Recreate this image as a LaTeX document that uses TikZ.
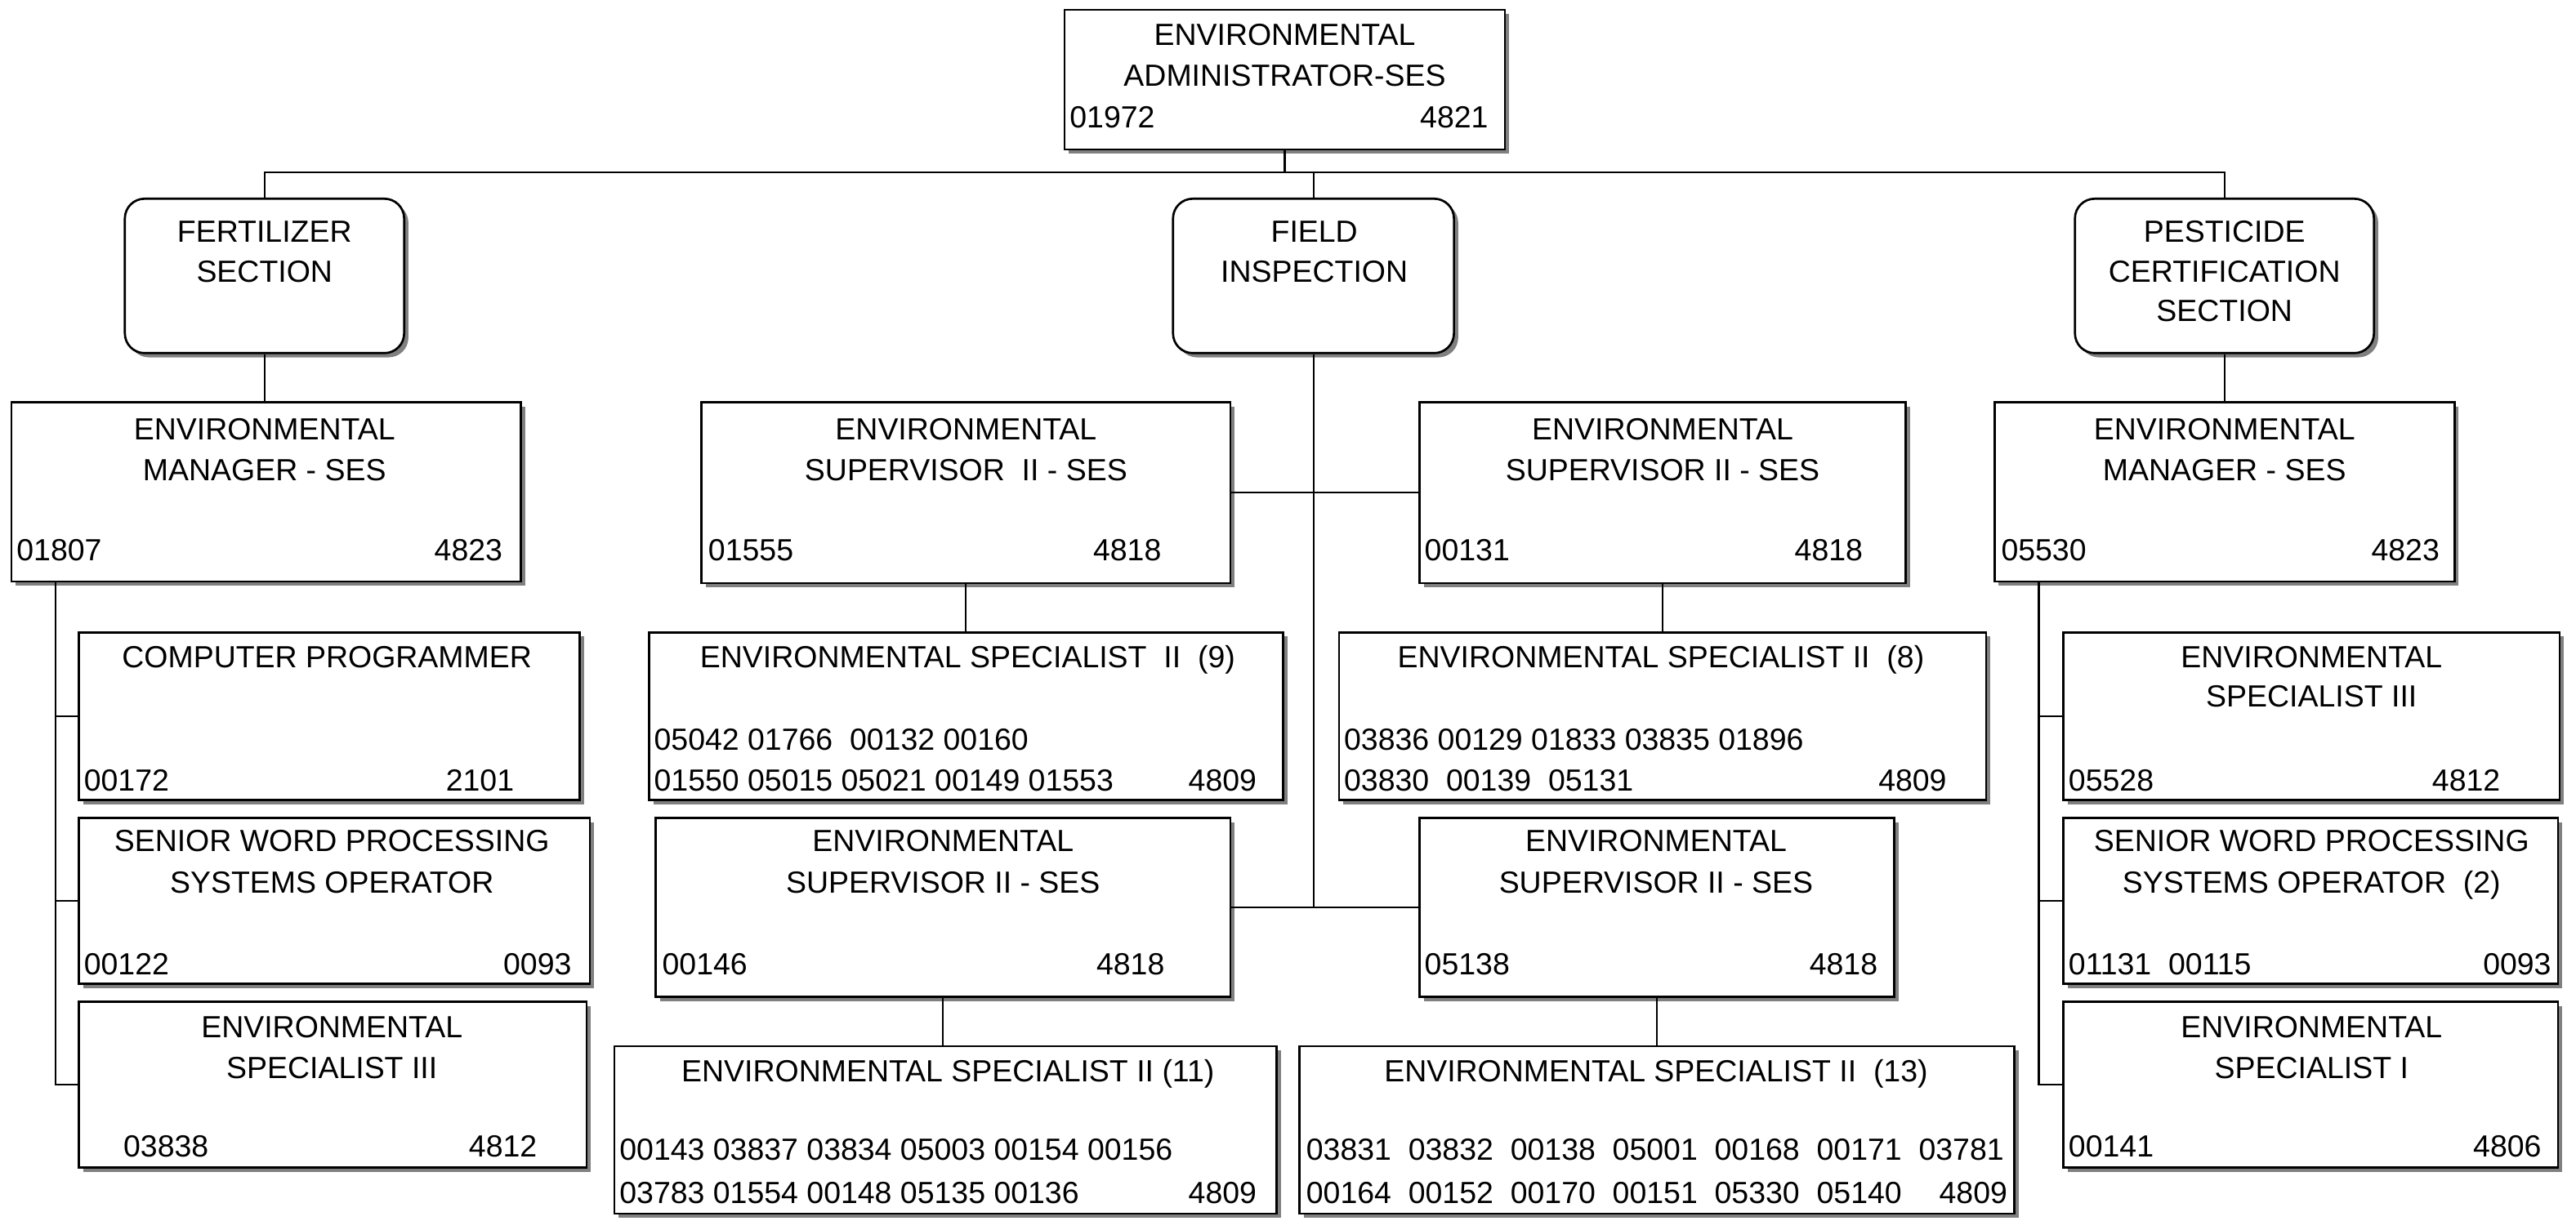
\documentclass[tikz,border=0pt]{standalone}
\usepackage{fontspec}
\setmainfont{Liberation Sans}
\usetikzlibrary{shadows}

% box from (x1,y1) to (x2,y2), y measured downwards
\newcommand\orgbox[6]{%
  \node[#6, minimum width={(#4-#2)*0.5mm}, minimum height={(#5-#3)*0.5mm}]
    (#1) at ({(#2+#4)/2},{(#3+#5)/2}) {};}
% text lines: centred, left-aligned and right-aligned (x, y = middle of capitals)
\newcommand\ctext[4]{\node[txt,anchor=base] (#1) at (#2,{#3+6.6}) {#4};}
\newcommand\ltext[4]{\node[txt,anchor=base west] (#1) at (#2,{#3+6.6}) {#4};}
\newcommand\rtext[4]{\node[txt,anchor=base east] (#1) at (#2,{#3+6.6}) {#4};}

\tikzset{
  posbox/.style={draw=black, line width=1.9pt, fill=white, rectangle, inner sep=0pt,
    drop shadow={shadow xshift=1.3mm, shadow yshift=-1.3mm, fill=black!50, opacity=1}},
  unitbox/.style={posbox, rounded corners=6mm},
  txt/.style={inner sep=0pt, font=\fontsize{26.5pt}{35pt}\selectfont},
  link/.style={draw=black, line width=1.5pt},
}

\begin{document}
\begin{tikzpicture}[x=0.5mm, y=-0.5mm]
\useasboundingbox (0,0) rectangle (1568,743);

% ---------- boxes ----------
\orgbox{top}{648}{6}{916}{91}{posbox}
\orgbox{fert}{76}{121}{246}{215}{unitbox}
\orgbox{field}{714}{121}{885}{215}{unitbox}
\orgbox{pest}{1263}{121}{1445}{215}{unitbox}

\orgbox{lman}{7}{245}{317}{354}{posbox}
\orgbox{cprog}{48}{385}{353}{487}{posbox}
\orgbox{lwp}{48}{498}{359}{599}{posbox}
\orgbox{lspec}{48}{610}{357}{711}{posbox}

\orgbox{supa}{427}{245}{749}{355}{posbox}
\orgbox{supb}{864}{245}{1160}{355}{posbox}
\orgbox{esnine}{395}{385}{781}{487}{posbox}
\orgbox{eseight}{815}{385}{1209}{487}{posbox}
\orgbox{supc}{399}{498}{749}{607}{posbox}
\orgbox{supd}{864}{498}{1153}{607}{posbox}
\orgbox{eseleven}{374}{637}{777}{739}{posbox}
\orgbox{esthirteen}{791}{637}{1226}{739}{posbox}

\orgbox{rman}{1214}{245}{1494}{354}{posbox}
\orgbox{rspec}{1256}{385}{1558}{487}{posbox}
\orgbox{rwp}{1256}{498}{1557}{599}{posbox}
\orgbox{respi}{1256}{610}{1557}{711}{posbox}

% ---------- connectors ----------
\coordinate (bus) at (782,105);
\draw[link] (top.south) -- (top.south |- bus);
\draw[link] (fert.north) -- (fert.north |- bus) -- (pest.north |- bus) -- (pest.north);
\draw[link] (field.north |- bus) -- (field.north);
\draw[link] (fert.south) -- (fert.south |- lman.north);
\draw[link] (pest.south) -- (pest.south |- rman.north);

\draw[link] (field.south) -- (field.south |- supc.east);
\draw[link] (supa.east) -- (supb.west);
\draw[link] (supc.east) -- (supd.west);
\draw[link] (supa.south) -- (supa.south |- esnine.north);
\draw[link] (supb.south) -- (supb.south |- eseight.north);
\draw[link] (supc.south) -- (supc.south |- eseleven.north);
\draw[link] (supd.south) -- (supd.south |- esthirteen.north);

\coordinate (lcol) at (34,354);
\draw[link] (lcol) -- (lcol |- lspec.west) -- (lspec.west);
\draw[link] (lcol |- cprog.west) -- (cprog.west);
\draw[link] (lcol |- lwp.west) -- (lwp.west);

\coordinate (rcol) at (1241,354);
\draw[link] (rcol) -- (rcol |- respi.west) -- (respi.west);
\draw[link] (rcol |- rspec.west) -- (rspec.west);
\draw[link] (rcol |- rwp.west) -- (rwp.west);

% ---------- texts ----------
\ctext{topa}{782}{21}{ENVIRONMENTAL}
\ctext{topb}{782}{46}{ADMINISTRATOR-SES}
\ltext{topc}{651}{71}{01972}
\rtext{topd}{906}{71}{4821}

\ctext{ferta}{161}{141}{FERTILIZER}
\ctext{fertb}{161}{165}{SECTION}
\ctext{fielda}{800}{141}{FIELD}
\ctext{fieldb}{800}{165}{INSPECTION}
\ctext{pesta}{1354}{141}{PESTICIDE}
\ctext{pestb}{1354}{165}{CERTIFICATION}
\ctext{pestc}{1354}{189}{SECTION}

\ctext{lmana}{161}{261}{ENVIRONMENTAL}
\ctext{lmanb}{161}{286}{MANAGER - SES}
\ltext{lmanc}{10}{335}{01807}
\rtext{lmand}{306}{335}{4823}

\ctext{cproga}{199}{400}{COMPUTER PROGRAMMER}
\ltext{cprogc}{51}{475}{00172}
\rtext{cprogd}{313}{475}{2101}

\ctext{lwpa}{202}{512}{SENIOR WORD PROCESSING}
\ctext{lwpb}{202}{537}{SYSTEMS OPERATOR}
\ltext{lwpc}{51}{587}{00122}
\rtext{lwpd}{348}{587}{0093}

\ctext{lspeca}{202}{625}{ENVIRONMENTAL}
\ctext{lspecb}{202}{650}{SPECIALIST III}
\ltext{lspecc}{75}{698}{03838}
\rtext{lspecd}{327}{698}{4812}

\ctext{supaa}{588}{261}{ENVIRONMENTAL}
\ctext{supab}{588}{286}{SUPERVISOR\ \ II - SES}
\ltext{supac}{431}{335}{01555}
\rtext{supad}{707}{335}{4818}

\ctext{supba}{1012}{261}{ENVIRONMENTAL}
\ctext{supbb}{1012}{286}{SUPERVISOR II - SES}
\ltext{supbc}{867}{335}{00131}
\rtext{supbd}{1134}{335}{4818}

\ctext{esninea}{589}{400}{ENVIRONMENTAL SPECIALIST\ \ II\ \ (9)}
\ltext{esnineb}{398}{450}{05042 01766\ \ 00132 00160}
\ltext{esninec}{398}{475}{01550 05015 05021 00149 01553}
\rtext{esnined}{765}{475}{4809}

\ctext{eseighta}{1011}{400}{ENVIRONMENTAL SPECIALIST II\ \ (8)}
\ltext{eseightb}{818}{450}{03836 00129 01833 03835 01896}
\ltext{eseightc}{818}{475}{03830\ \ 00139\ \ 05131}
\rtext{eseightd}{1185}{475}{4809}

\ctext{supca}{574}{512}{ENVIRONMENTAL}
\ctext{supcb}{574}{537}{SUPERVISOR II - SES}
\ltext{supcc}{403}{587}{00146}
\rtext{supcd}{709}{587}{4818}

\ctext{supda}{1008}{512}{ENVIRONMENTAL}
\ctext{supdb}{1008}{537}{SUPERVISOR II - SES}
\ltext{supdc}{867}{587}{05138}
\rtext{supdd}{1143}{587}{4818}

\ctext{eselevena}{577}{652}{ENVIRONMENTAL SPECIALIST II (11)}
\ltext{eselevenb}{377}{700}{00143 03837 03834 05003 00154 00156}
\ltext{eselevenc}{377}{726}{03783\ 01554\ 00148\ 05135\ 00136}
\rtext{esElevend}{765}{726}{4809}

\ctext{esthirteena}{1008}{652}{ENVIRONMENTAL SPECIALIST II\ \ (13)}
\ltext{esthirteenb}{795}{700}{03831\ \ 03832\ \ 00138\ \ 05001\ \ 00168\ \ 00171\ \ 03781}
\ltext{esthirteenc}{795}{726}{00164\ \ 00152\ \ 00170\ \ 00151\ \ 05330\ \ 05140}
\rtext{esthirteend}{1222}{726}{4809}

\ctext{rmana}{1354}{261}{ENVIRONMENTAL}
\ctext{rmanb}{1354}{286}{MANAGER - SES}
\ltext{rmanc}{1218}{335}{05530}
\rtext{rmand}{1485}{335}{4823}

\ctext{rspeca}{1407}{400}{ENVIRONMENTAL}
\ctext{rspecb}{1407}{424}{SPECIALIST III}
\ltext{rspecc}{1259}{475}{05528}
\rtext{rspecd}{1522}{475}{4812}

\ctext{rwpa}{1407}{512}{SENIOR WORD PROCESSING}
\ctext{rwpb}{1407}{537}{SYSTEMS OPERATOR\ \ (2)}
\ltext{rwpc}{1259}{587}{01131\ \ 00115}
\rtext{rwpd}{1553}{587}{0093}

\ctext{respia}{1407}{625}{ENVIRONMENTAL}
\ctext{respib}{1407}{650}{SPECIALIST I}
\ltext{respic}{1259}{698}{00141}
\rtext{respid}{1547}{698}{4806}
\end{tikzpicture}
\end{document}
